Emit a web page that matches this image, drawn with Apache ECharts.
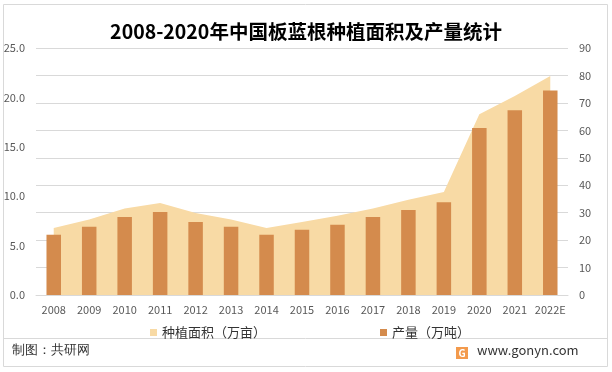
<!DOCTYPE html>
<html>
<head>
<meta charset="utf-8">
<script src="https://cdn.jsdelivr.net/npm/echarts@6/dist/echarts.min.js"></script>
<style>html,body{margin:0;padding:0;background:#fff;}#c{width:612px;height:372px;}</style>
</head>
<body>
<div id="c"></div>
<script>
const categories = ['2008','2009','2010','2011','2012','2013','2014','2015','2016','2017','2018','2019','2020','2021','2022E'];
const areaValues = [24.4, 27.5, 31.5, 33.5, 29.9, 27.5, 24.4, 26.6, 28.9, 31.5, 34.7, 37.5, 65.9, 72.5, 79.8];
const outputValues = [6.1, 6.9, 7.9, 8.4, 7.4, 6.9, 6.1, 6.6, 7.1, 7.9, 8.6, 9.4, 16.9, 18.7, 20.7];
const areaName = '种植面积（万亩）';
const outputName = '产量（万吨）';
const titleText = '2008-2020年中国板蓝根种植面积及产量统计';

const FONT = '"Noto Sans CJK SC", "Noto Sans", sans-serif';
const chart = echarts.init(document.getElementById('c'));
chart.setOption({
  animation: false,
  textStyle: { fontFamily: FONT },
  title: {
    text: titleText, left: 'center', top: 17,
    textStyle: { fontSize: 19.5, fontWeight: 'bold', color: '#000', fontFamily: FONT }
  },
  legend: [
    { data: [areaName], left: 145, top: 321, icon: 'rect', itemWidth: 7, itemHeight: 7, itemGap: 4,
      textStyle: { fontSize: 13, color: '#333', fontFamily: FONT } },
    { data: [outputName], left: 375, top: 321, icon: 'rect', itemWidth: 7, itemHeight: 7, itemGap: 4,
      textStyle: { fontSize: 13, color: '#333', fontFamily: FONT } }
  ],
  grid: { left: 36, right: 44, top: 48, bottom: 77 },
  xAxis: {
    type: 'category', data: categories, boundaryGap: true,
    axisLine: { lineStyle: { color: '#D9D9D9' } },
    axisTick: { show: false },
    axisLabel: { color: '#595959', fontSize: 11, margin: 9, interval: 0, fontFamily: FONT }
  },
  yAxis: [
    { type: 'value', min: 0, max: 25, interval: 5, position: 'left',
      axisLine: { show: false }, axisTick: { show: false }, splitLine: { show: false },
      axisLabel: { color: '#595959', fontSize: 11, margin: 11, formatter: v => v.toFixed(1), fontFamily: FONT } },
    { type: 'value', min: 0, max: 90, interval: 10, position: 'right',
      axisLine: { show: false }, axisTick: { show: false },
      splitLine: { show: true, lineStyle: { color: '#D9D9D9', width: 1 } },
      axisLabel: { color: '#595959', fontSize: 11, margin: 11, fontFamily: FONT } }
  ],
  series: [
    { name: areaName, type: 'line', yAxisIndex: 1, data: areaValues, symbol: 'none', z: 1,
      itemStyle: { color: '#F8DAA5' },
      lineStyle: { width: 0, color: '#F8DAA5' },
      areaStyle: { color: '#F8DAA5', opacity: 1 } },
    { name: outputName, type: 'bar', yAxisIndex: 0, data: outputValues, barWidth: 14.5, z: 5,
      itemStyle: { color: '#D48B4D' } }
  ],
  graphic: [
    { type: 'rect', shape: { x: 3.5, y: 4.5, width: 604, height: 362 }, style: { fill: 'none', stroke: '#D9D9D9', lineWidth: 1 }, silent: true },
    { type: 'line', shape: { x1: 3.5, y1: 338.5, x2: 607.5, y2: 338.5 }, style: { stroke: '#D9D9D9', lineWidth: 1 }, silent: true },
    { type: 'text', left: 12, top: 344, style: { text: '制图：共研网', fontSize: 13, fill: '#333', font: '13px ' + FONT } },
    { type: 'rect', shape: { x: 456, y: 347, width: 12, height: 12 }, style: { fill: '#F39A4C' } },
    { type: 'text', x: 462, y: 353, style: { text: 'G', fill: '#fff', font: 'bold 10px ' + FONT, align: 'center', verticalAlign: 'middle' } },
    { type: 'text', left: 477, top: 344, style: { text: 'www.gonyn.com', fill: '#333', font: '13px ' + FONT } }
  ]
});
</script>
</body>
</html>
